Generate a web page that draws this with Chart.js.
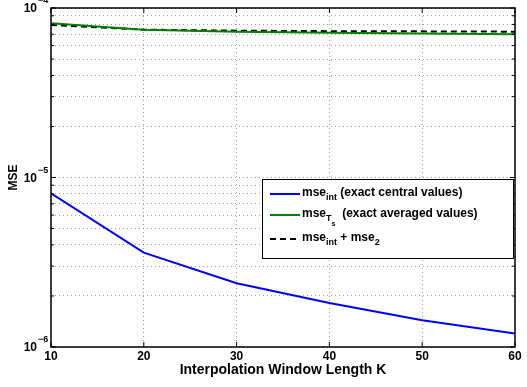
<!DOCTYPE html>
<html>
<head>
<meta charset="utf-8">
<script src="https://cdn.jsdelivr.net/npm/chart.js@4.4.1/dist/chart.umd.min.js"></script>
<style>
  html, body { margin: 0; padding: 0; background: #fff; }
</style>
</head>
<body>
<canvas id="mseChart" width="527" height="387"></canvas>
<script>
// Window lengths K and the three error curves
const windowLengths = [10, 20, 30, 40, 50, 60];
const mseInt = [8.07e-6, 3.6e-6, 2.38e-6, 1.82e-6, 1.44e-6, 1.2e-6];
const mseTs = [8.12e-5, 7.45e-5, 7.25e-5, 7.15e-5, 7.08e-5, 7.0e-5];
const mseSum = [7.94e-5, 7.45e-5, 7.35e-5, 7.3e-5, 7.28e-5, 7.25e-5];

const xTicks = [10, 20, 30, 40, 50, 60];
const yDecades = [-6, -5, -4];

const FONT = '"Liberation Sans", Arial, Helvetica, sans-serif';

function points(ys) {
    return windowLengths.map((k, i) => ({ x: k, y: ys[i] }));
}

// log ticks at 1..9 x 10^n for the dotted grid
function logTicks() {
    const out = [];
    for (let d = yDecades[0]; d < yDecades[yDecades.length - 1]; d++) {
        for (let m = 1; m < 10; m++) out.push({ value: m * Math.pow(10, d) });
    }
    out.push({ value: Math.pow(10, yDecades[yDecades.length - 1]) });
    return out;
}

// text with optional subscripts: parts = [[text, level], ...]
function drawRich(ctx, x, y, parts, size) {
    for (const [txt, level] of parts) {
        const s = level === 0 ? size : (level === 1 ? size * 0.75 : size * 0.6);
        const dy = level === 0 ? 0 : (level === 1 ? size * 0.35 : size * 0.8);
        ctx.font = 'bold ' + s + 'px ' + FONT;
        ctx.fillText(txt, x, y + dy);
        x += ctx.measureText(txt).width;
    }
    return x;
}

const axesPlugin = {
    id: 'axesDecor',
    afterDatasetsDraw(chart) {
        const ctx = chart.ctx;
        const a = chart.chartArea;
        const xs = chart.scales.x, ys = chart.scales.y;
        ctx.save();
        ctx.strokeStyle = '#000';
        ctx.lineWidth = 1.5;
        ctx.strokeRect(a.left, a.top, a.right - a.left, a.bottom - a.top);

        // inward tick marks
        ctx.lineWidth = 1;
        ctx.beginPath();
        xTicks.forEach(v => {
            const px = xs.getPixelForValue(v);
            ctx.moveTo(px, a.bottom); ctx.lineTo(px, a.bottom - 5);
            ctx.moveTo(px, a.top); ctx.lineTo(px, a.top + 5);
        });
        logTicks().forEach(t => {
            const py = ys.getPixelForValue(t.value);
            const len = Math.abs(Math.log10(t.value) % 1) < 1e-9 ? 5 : 3;
            ctx.moveTo(a.left, py); ctx.lineTo(a.left + len, py);
            ctx.moveTo(a.right, py); ctx.lineTo(a.right - len, py);
        });
        ctx.stroke();

        // tick labels
        ctx.fillStyle = '#000';
        ctx.textBaseline = 'middle';
        ctx.textAlign = 'center';
        ctx.font = 'bold 12px ' + FONT;
        xTicks.forEach(v => ctx.fillText(String(v), xs.getPixelForValue(v), a.bottom + 10));

        yDecades.forEach(d => {
            const py = ys.getPixelForValue(Math.pow(10, d));
            ctx.textAlign = 'right';
            ctx.font = 'bold 12px ' + FONT;
            ctx.fillText('10', 37, py + 1);
            ctx.textAlign = 'left';
            ctx.font = 'bold 9px ' + FONT;
            ctx.fillText('\u2212' + Math.abs(d), 38, py - 7);
        });

        // axis titles
        ctx.textAlign = 'center';
        ctx.font = 'bold 14px ' + FONT;
        ctx.fillText('Interpolation Window Length K', (a.left + a.right) / 2, a.bottom + 23);
        ctx.save();
        ctx.translate(14, (a.top + a.bottom) / 2);
        ctx.rotate(-Math.PI / 2);
        ctx.font = 'bold 12px ' + FONT;
        ctx.fillText('MSE', 0, 0);
        ctx.restore();

        // legend
        const L = { x: 262, y: 179, w: 251, h: 79 };
        ctx.fillStyle = '#fff';
        ctx.fillRect(L.x, L.y, L.w, L.h);
        ctx.strokeStyle = '#000';
        ctx.lineWidth = 1;
        ctx.strokeRect(L.x + 0.5, L.y + 0.5, L.w, L.h);

        const rows = [
            { y: 193, color: '#0000ff', dash: [], parts: [['mse', 0], ['int', 1], [' (exact central values)', 0]] },
            { y: 214, color: '#008000', dash: [], parts: [['mse', 0], ['T', 1], ['s', 2], ['  (exact averaged values)', 0]] },
            { y: 238, color: '#000', dash: [6, 4], parts: [['mse', 0], ['int', 1], [' + mse', 0], ['2', 1]] }
        ];
        rows.forEach(r => {
            ctx.strokeStyle = r.color;
            ctx.lineWidth = 2;
            ctx.setLineDash(r.dash);
            ctx.beginPath();
            ctx.moveTo(270, r.y + 1);
            ctx.lineTo(300, r.y + 1);
            ctx.stroke();
            ctx.setLineDash([]);
            ctx.fillStyle = '#000';
            ctx.textAlign = 'left';
            ctx.textBaseline = 'middle';
            drawRich(ctx, 302, r.y, r.parts, 12);
        });
        ctx.restore();
    }
};

const gridStyle = { color: 'rgba(0,0,0,0.38)', lineWidth: 1, drawTicks: false };

new Chart(document.getElementById('mseChart'), {
    type: 'line',
    data: {
        datasets: [
            { label: 'mse_int', data: points(mseInt), borderColor: '#0000ff', borderWidth: 2, pointRadius: 0, tension: 0, fill: false },
            { label: 'mse_Ts', data: points(mseTs), borderColor: '#008000', borderWidth: 2, pointRadius: 0, tension: 0, fill: false },
            { label: 'mse_int + mse_2', data: points(mseSum), borderColor: '#000000', borderWidth: 2, borderDash: [6, 4], pointRadius: 0, tension: 0, fill: false }
        ]
    },
    options: {
        responsive: false,
        animation: false,
        devicePixelRatio: 1,
        layout: { padding: { top: 8, right: 12, left: 0, bottom: 0 } },
        plugins: { legend: { display: false }, tooltip: { enabled: false } },
        scales: {
            x: {
                type: 'linear',
                min: 10,
                max: 60,
                afterBuildTicks: s => { s.ticks = xTicks.map(v => ({ value: v })); },
                afterFit: s => { s.height = 40; },
                grid: gridStyle,
                border: { display: false, dash: [1, 3] },
                ticks: { display: false }
            },
            y: {
                type: 'logarithmic',
                min: 1e-6,
                max: 1e-4,
                afterBuildTicks: s => { s.ticks = logTicks(); },
                afterFit: s => { s.width = 51; },
                grid: gridStyle,
                border: { display: false, dash: [1, 3] },
                ticks: { display: false }
            }
        }
    },
    plugins: [axesPlugin]
});
</script>
</body>
</html>
